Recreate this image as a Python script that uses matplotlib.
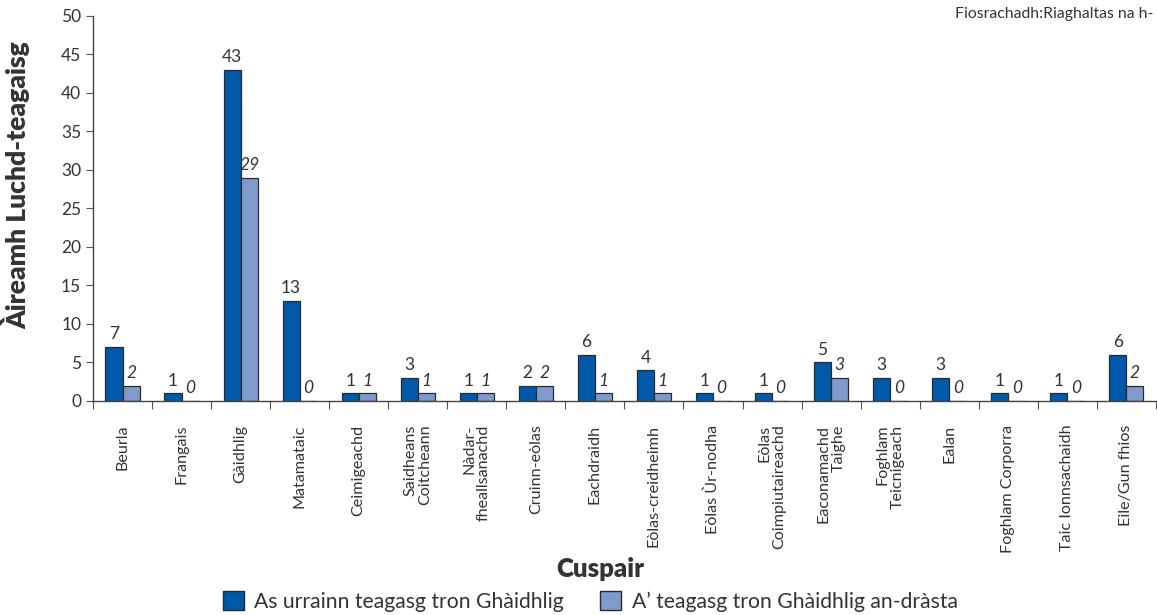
import numpy as np
import matplotlib
matplotlib.use("Agg")
import matplotlib.pyplot as plt
from matplotlib.patches import Patch

plt.rcParams['font.family'] = ['Lato', 'DejaVu Sans']

subjects = ['Beurla', 'Frangais', 'Gàidhlig', 'Matamataic', 'Ceimigeachd',
            'Saidheans\nCoitcheann', 'Nàdar-\nfheallsanachd', 'Cruinn-eòlas',
            'Eachdraidh', 'Eòlas-creidheimh', 'Eòlas Ùr-nodha',
            'Eòlas\nCoimpiutaireachd', 'Eaconamachd\nTaighe', 'Foghlam\nTeicnigeach',
            'Ealan', 'Foghlam Corporra', 'Taic Ionnsachaidh', 'Eile/Gun fhios']
able = [7, 1, 43, 13, 1, 3, 1, 2, 6, 4, 1, 1, 5, 3, 3, 1, 1, 6]
current = [2, 0, 29, 0, 1, 1, 1, 2, 1, 1, 0, 0, 3, 0, 0, 0, 0, 2]
series_names = ['As urrainn teagasg tron Ghàidhlig', 'A’ teagasg tron Ghàidhlig an-dràsta']

dark = '#0058A9'
light = '#7F9BCC'
edge = '#2b2b2b'
txt = '#333333'

fig = plt.figure(figsize=(11.57, 6.15), dpi=100)
ax = fig.add_axes([0.0804, 0.348, 0.9186, 0.626])

x = np.arange(len(subjects))
w = 0.29
ax.bar(x - w / 2, able, w, color=dark, edgecolor=edge, linewidth=0.9)
ax.bar(x + w / 2, current, w, color=light, edgecolor=edge, linewidth=0.9)

for xi, a, c in zip(x, able, current):
    ax.text(xi - w / 2, a + 0.6, str(a), ha='center', va='bottom', fontsize=12.5, color=txt)
    ax.text(xi + w / 2, c + 0.6, str(c), ha='center', va='bottom', fontsize=12.5,
            color=txt, style='italic')

ax.set_xlim(-0.5, len(subjects) - 0.5)
ax.set_ylim(0, 50)
ax.set_yticks(range(0, 51, 5))
ax.set_xticks(np.arange(len(subjects) + 1) - 0.5)
ax.set_xticklabels([])
ax.set_xticks(x, minor=True)
ax.set_xticklabels(subjects, minor=True, rotation=90, fontsize=11.6, color=txt,
                   va='top', ha='center', multialignment='right', linespacing=1.05)
ax.tick_params(axis='x', which='major', length=6, direction='out', color='#555555')
ax.tick_params(axis='x', which='minor', length=0, pad=17)
ax.tick_params(axis='y', length=5, color='#555555', labelsize=12.5, labelcolor=txt)

for s in ['top', 'right']:
    ax.spines[s].set_visible(False)
for s in ['left', 'bottom']:
    ax.spines[s].set_color('#444444')
    ax.spines[s].set_linewidth(1.0)

ax.set_ylabel('Àireamh Luchd-teagaisg', fontsize=19, fontweight='heavy', color=txt)
ax.yaxis.set_label_coords(-0.059, 0.561)
fig.text(0.519, 0.074, 'Cuspair', ha='center', va='center', fontsize=18.5,
         fontweight='heavy', color=txt)
fig.text(0.997, 0.978, 'Fiosrachadh:Riaghaltas na h-', ha='right', va='center',
         fontsize=11.3, color=txt)

handles = [Patch(facecolor=dark, edgecolor=edge), Patch(facecolor=light, edgecolor=edge)]
fig.legend(handles, series_names, loc='center', bbox_to_anchor=(0.51, 0.022), ncol=2,
           frameon=False, fontsize=15.2, handlelength=1.0, handleheight=1.0,
           columnspacing=1.7, handletextpad=0.5, labelcolor=txt)

fig.savefig('out.png', dpi=100)
